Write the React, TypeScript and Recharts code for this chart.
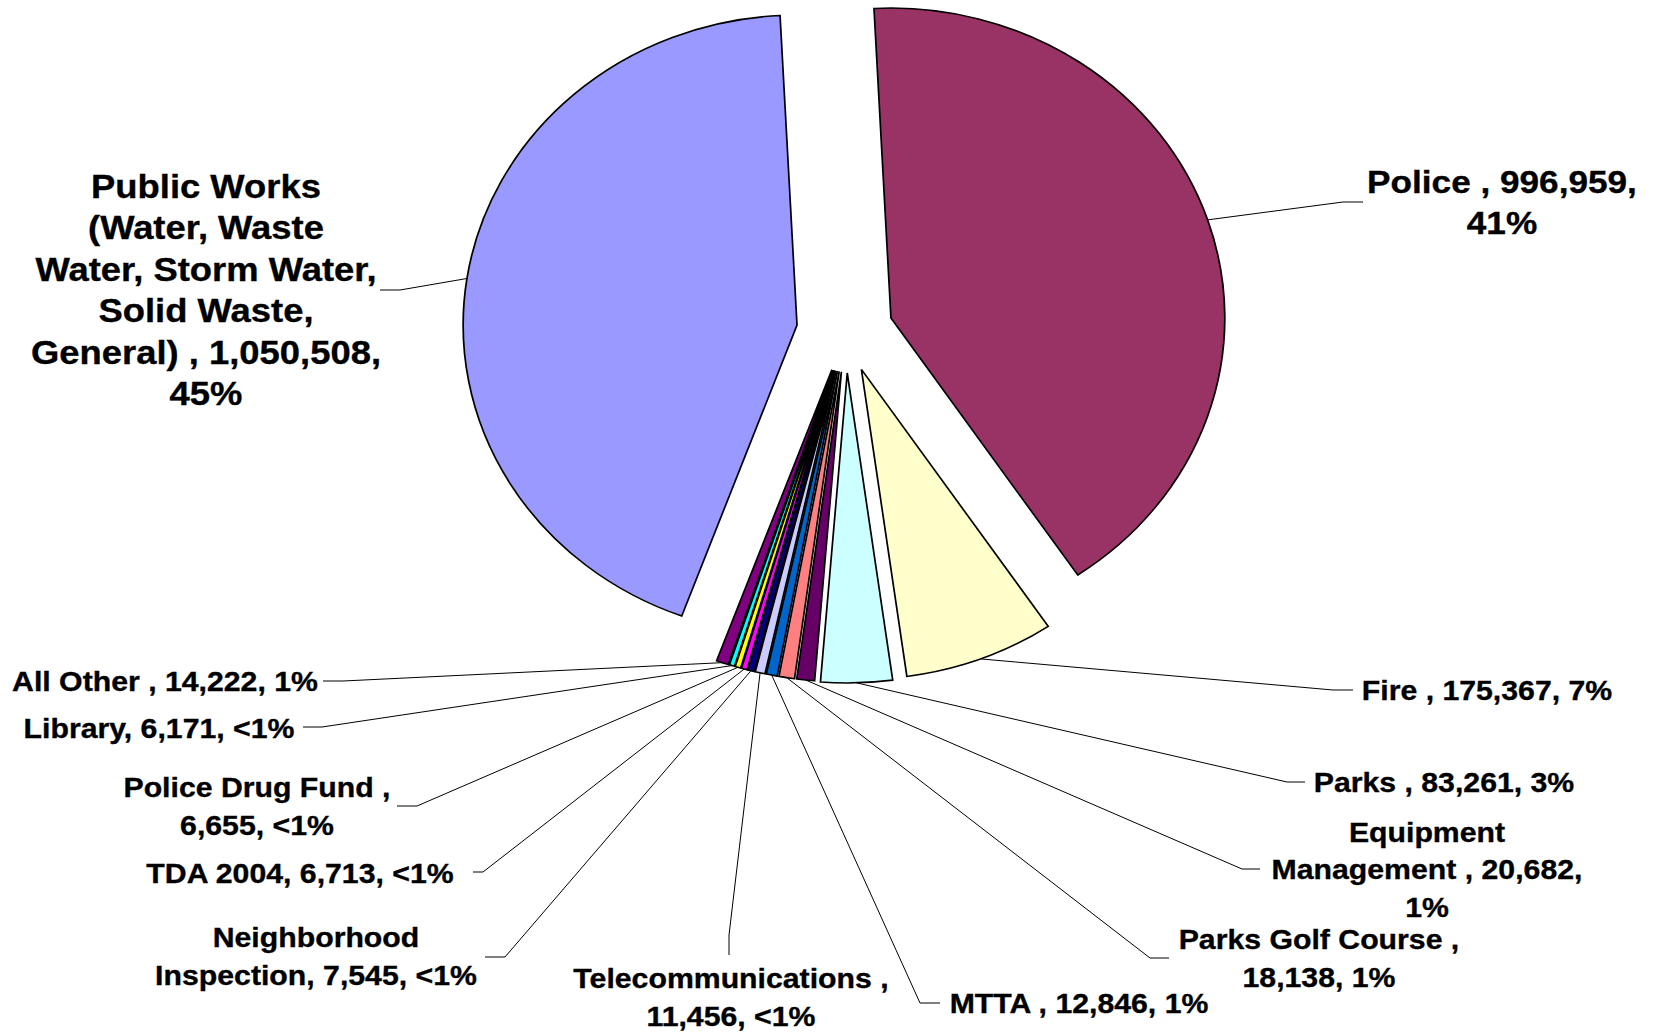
import { PieChart, Pie, Sector } from 'recharts'

// slices in the order Excel drew them (clockwise)
const departments = [
  'Public Works', 'Police', 'Fire', 'Parks', 'Equipment Management', 'Parks Golf Course',
  'MTTA', 'Telecommunications', 'Neighborhood Inspection', 'TDA 2004', 'Police Drug Fund',
  'Library', 'All Other'
]
const amounts = [1050508, 996959, 175367, 83261, 20682, 18138, 12846, 11456, 7545, 6713, 6655, 6171, 14222]
const labelText = [
  ['Public Works', '(Water, Waste', 'Water, Storm Water,', 'Solid Waste,', 'General) , 1,050,508,', '45%'],
  ['Police , 996,959,', '41%'],
  ['Fire , 175,367, 7%'],
  ['Parks , 83,261, 3%'],
  ['Equipment', 'Management , 20,682,', '1%'],
  ['Parks Golf Course ,', '18,138, 1%'],
  ['MTTA , 12,846, 1%'],
  ['Telecommunications ,', '11,456, <1%'],
  ['Neighborhood', 'Inspection, 7,545, <1%'],
  ['TDA 2004, 6,713, <1%'],
  ['Police Drug Fund ,', '6,655, <1%'],
  ['Library, 6,171, <1%'],
  ['All Other , 14,222, 1%']
]

const colors = ['#9999FF', '#993366', '#FFFFCC', '#CCFFFF', '#660066', '#FF8080', '#0066CC', '#CCCCFF', '#000080', '#FF00FF', '#FFFF00', '#00FFFF', '#800080']
const explode = [46, 44, 40, 41, 40, 40, 40, 40, 40, 40, 40, 40, 40]

// pie is drawn a bit wider than tall, like the original
const STRETCH = 1.077
const TEXT_STRETCH = 1.12

const labelLayout = [
  { x: 206, y: 198, step: 41.5, size: 32.5, elbow: [400, 290], end: [380, 290] },
  { x: 1502, y: 193, step: 41, size: 31.4, elbow: [1343, 202], end: [1363, 202] },
  { x: 1487, y: 700, step: 38, size: 27, elbow: [1333, 690], end: [1353, 690] },
  { x: 1444, y: 792, step: 38, size: 27, elbow: [1287, 782], end: [1305, 782] },
  { x: 1427, y: 842, step: 37.5, size: 27, elbow: [1242, 869], end: [1260, 869] },
  { x: 1319, y: 949, step: 38, size: 27, elbow: [1150, 958], end: [1169, 958] },
  { x: 1079, y: 1013, step: 38, size: 27, elbow: [920, 1003], end: [940, 1003] },
  { x: 731, y: 988, step: 38, size: 27, elbow: [729, 935], end: [729, 955] },
  { x: 316, y: 947, step: 38, size: 27, elbow: [505, 957], end: [485, 957] },
  { x: 300, y: 883, step: 38, size: 27, elbow: [483, 872], end: [473, 872] },
  { x: 257, y: 797, step: 38, size: 27, elbow: [417, 806], end: [397, 806] },
  { x: 159, y: 738, step: 38, size: 27, elbow: [322, 727], end: [303, 727] },
  { x: 165, y: 691, step: 38, size: 27, elbow: [343, 681], end: [323, 681] }
]

const data = departments.map((name, i) => ({ name, value: amounts[i] }))

// draws the exploded slice, its leader line and its label
const renderSlice = (props: any) => {
  const { cx, cy, outerRadius, startAngle, endAngle, midAngle, index } = props
  const rad = (midAngle * Math.PI) / 180
  const e = explode[index]
  const ox = STRETCH * e * Math.cos(rad)
  const oy = -e * Math.sin(rad)
  const ax = cx + ox + STRETCH * outerRadius * Math.cos(rad)
  const ay = cy + oy - outerRadius * Math.sin(rad)
  const lay = labelLayout[index]
  return (
    <g key={`slice-${index}`}>
      <g transform={`translate(${cx + ox},${cy + oy}) scale(${STRETCH},1) translate(${-cx},${-cy})`}>
        <Sector
          cx={cx}
          cy={cy}
          innerRadius={0}
          outerRadius={outerRadius}
          startAngle={startAngle}
          endAngle={endAngle}
          fill={colors[index]}
          stroke="#000"
          strokeWidth={1.6}
        />
      </g>
      <polyline
        points={`${ax},${ay} ${lay.elbow[0]},${lay.elbow[1]} ${lay.end[0]},${lay.end[1]}`}
        fill="none"
        stroke="#000"
        strokeWidth={1}
      />
      <text
        transform={`translate(${lay.x},0) scale(${TEXT_STRETCH},1) translate(${-lay.x},0)`}
        textAnchor="middle"
        fontFamily="'Liberation Sans', Arial, sans-serif"
        fontWeight="bold"
        fontSize={lay.size}
        fill="#000"
        stroke="#000"
        strokeWidth={0.35}
      >
        {labelText[index].map((t, i) => (
          <tspan key={i} x={lay.x} y={lay.y + i * lay.step}>{t}</tspan>
        ))}
      </text>
    </g>
  )
}

export default function App() {
  return (
    <div style={{ position: 'absolute', left: 0, top: 0, width: 1654, height: 1033, background: '#fff' }}>
      <PieChart width={1654} height={1033} margin={{ top: 0, right: 0, bottom: 0, left: 0 }}>
        <Pie
          data={data}
          dataKey="value"
          nameKey="name"
          cx={846}
          cy={332}
          outerRadius={310}
          startAngle={-110.2}
          endAngle={-470.2}
          fill="none"
          stroke="none"
          label={renderSlice}
          labelLine={false}
          isAnimationActive={false}
        />
      </PieChart>
    </div>
  )
}
